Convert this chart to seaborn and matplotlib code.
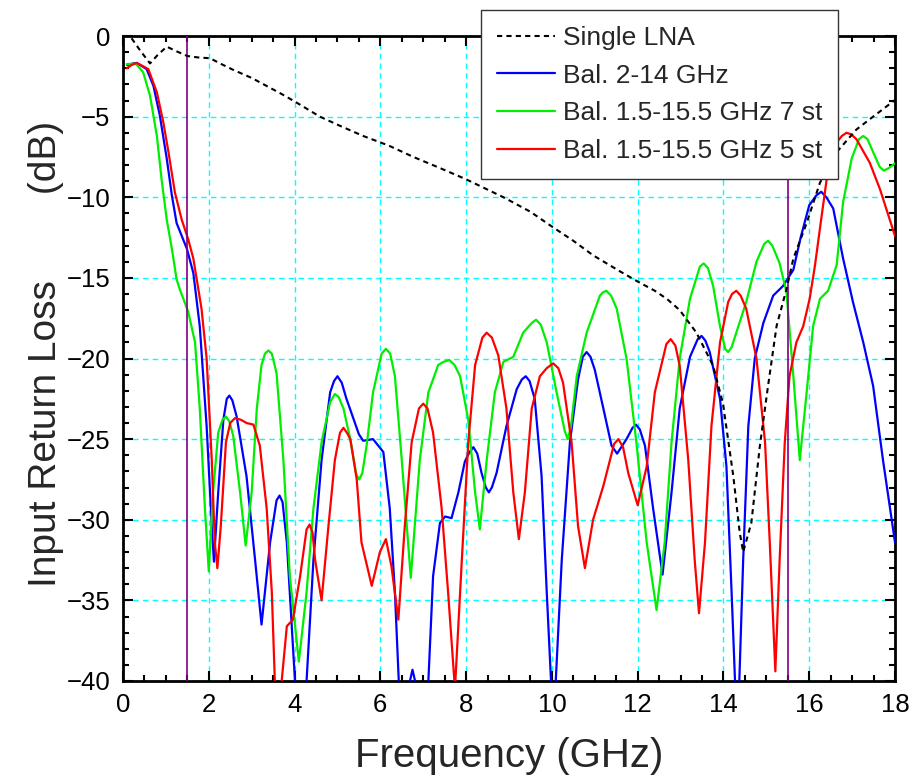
import matplotlib
matplotlib.use('Agg')
import matplotlib.pyplot as plt
from matplotlib.ticker import MultipleLocator
import seaborn as sns
import pandas as pd

# Single LNA
lna_f = [0.2, 0.4, 0.63, 0.8, 1.02, 1.25, 1.5, 1.75, 2.03, 2.3, 2.57, 3.0, 3.35, 3.7, 4.01, 4.59,
         5.0, 5.6, 6.2, 6.77, 7.4, 8.01, 8.87, 9.5, 9.99, 10.5, 10.96, 11.59, 12.01, 12.4,
         12.68, 12.98, 13.37, 13.76, 13.99, 14.23, 14.38, 14.46, 14.65, 14.85, 15.04, 15.24,
         15.47, 15.63, 15.94, 16.25, 16.64, 17.1, 17.49, 18.0]
lna_db = [-0.14, -0.9, -1.7, -1.2, -0.66, -0.95, -1.24, -1.33, -1.38, -1.75, -2.1, -2.6, -3.1, -3.6,
          -4.07, -5.0, -5.5, -6.2, -6.8, -7.5, -8.2, -8.9, -10.0, -10.9, -11.8, -12.7, -13.6,
          -14.6, -15.24, -15.8, -16.3, -17.0, -18.4, -20.45, -22.8, -27.3, -30.8, -32.0, -30.2,
          -25.4, -21.7, -17.97, -15.7, -13.8, -11.6, -9.1, -7.2, -5.8, -5.0, -3.97]

# Bal. 2-14 GHz
bal_f = [0.1, 0.24, 0.32, 0.55, 0.71, 0.86, 1.02, 1.14, 1.25, 1.49, 1.64, 1.79, 1.95, 2.07, 2.12,
         2.22, 2.34, 2.42, 2.48, 2.55, 2.65, 2.88, 3.08, 3.23, 3.43, 3.58, 3.65, 3.72, 3.82,
         4.01, 4.14, 4.28, 4.44, 4.63, 4.83, 4.92, 5.0, 5.1, 5.21, 5.29, 5.5, 5.6, 5.83, 6.07,
         6.22, 6.34, 6.43, 6.55, 6.69, 6.75, 6.81, 6.95, 7.12, 7.23, 7.39, 7.51, 7.66, 7.82,
         7.97, 8.08, 8.17, 8.26, 8.36, 8.46, 8.53, 8.6, 8.71, 8.94, 9.18, 9.3, 9.39, 9.48, 9.6,
         9.76, 9.88, 9.98, 10.03, 10.09, 10.23, 10.42, 10.61, 10.72, 10.81, 10.9, 11.0, 11.2,
         11.39, 11.52, 11.74, 11.88, 11.96, 12.05, 12.17, 12.36, 12.58, 12.79, 12.98, 13.22,
         13.4, 13.49, 13.58, 13.68, 13.92, 14.07, 14.19, 14.27, 14.32, 14.37, 14.46, 14.58,
         14.73, 14.93, 15.16, 15.39, 15.63, 15.8, 16.0, 16.16, 16.28, 16.4, 16.56, 16.79,
         17.02, 17.26, 17.49, 17.72, 18.0]
bal_db = [-1.8, -1.7, -1.67, -2.05, -3.1, -4.95, -7.6, -9.9, -11.6, -13.2, -14.7, -18.0, -24.2,
          -30.4, -32.6, -28.3, -23.8, -22.5, -22.3, -22.6, -23.6, -27.3, -32.5, -36.5, -31.4,
          -28.8, -28.5, -28.9, -31.4, -40.0, -44.0, -40.0, -32.5, -26.3, -22.1, -21.4, -21.1,
          -21.5, -22.5, -23.1, -24.7, -25.1, -25.0, -25.8, -29.3, -34.5, -40.0, -44.0, -40.0,
          -39.3, -40.0, -44.0, -40.0, -33.5, -30.2, -29.8, -29.9, -28.3, -26.4, -25.8, -25.5,
          -25.9, -27.1, -28.0, -28.3, -28.0, -27.1, -24.2, -21.9, -21.3, -21.1, -21.4, -22.5,
          -27.3, -34.5, -40.0, -43.0, -40.0, -32.5, -25.2, -21.3, -19.9, -19.6, -19.9, -20.7,
          -23.1, -25.4, -25.9, -25.0, -24.3, -24.1, -24.4, -25.4, -29.3, -33.4, -28.3, -23.1,
          -19.9, -18.8, -18.6, -18.9, -19.6, -22.5, -26.7, -34.5, -40.0, -44.0, -40.0, -32.5,
          -24.2, -20.0, -17.8, -16.1, -15.5, -14.5, -12.5, -10.5, -9.9, -9.66, -10.0, -10.7,
          -13.8, -16.5, -19.0, -21.7, -26.3, -31.4]

# Bal. 1.5-15.5 GHz 7 st
st7_f = [0.09, 0.3, 0.47, 0.63, 0.79, 0.9, 1.02, 1.14, 1.25, 1.33, 1.52, 1.68, 1.79, 1.91, 2.0,
         2.1, 2.22, 2.32, 2.4, 2.48, 2.57, 2.73, 2.86, 3.0, 3.12, 3.23, 3.31, 3.39, 3.47, 3.58,
         3.74, 3.89, 4.1, 4.28, 4.44, 4.63, 4.83, 4.94, 5.03, 5.14, 5.3, 5.44, 5.51, 5.58, 5.68,
         5.83, 6.03, 6.13, 6.23, 6.34, 6.5, 6.71, 6.92, 7.12, 7.35, 7.48, 7.61, 7.73, 7.86,
         8.05, 8.21, 8.32, 8.48, 8.67, 8.87, 9.1, 9.33, 9.53, 9.63, 9.74, 9.88, 10.11, 10.3,
         10.37, 10.44, 10.58, 10.81, 11.12, 11.19, 11.27, 11.38, 11.51, 11.74, 11.97, 12.21,
         12.44, 12.63, 12.79, 12.98, 13.22, 13.45, 13.54, 13.64, 13.76, 13.92, 14.04, 14.11,
         14.19, 14.3, 14.53, 14.77, 14.95, 15.04, 15.14, 15.31, 15.47, 15.63, 15.78, 15.94,
         16.09, 16.25, 16.44, 16.64, 16.79, 16.99, 17.16, 17.26, 17.36, 17.49, 17.64, 17.74,
         17.85, 18.0]
st7_db = [-1.74, -1.72, -2.25, -3.7, -6.2, -8.9, -11.4, -13.2, -15.1, -15.75, -17.1, -19.0,
          -23.1, -29.3, -33.2, -28.3, -24.6, -23.8, -23.6, -23.9, -24.8, -28.3, -31.6, -28.3,
          -23.1, -20.4, -19.7, -19.5, -19.7, -20.9, -26.3, -33.5, -38.8, -34.5, -29.3, -25.2,
          -22.7, -22.2, -22.4, -23.1, -25.0, -27.2, -27.5, -27.1, -25.4, -22.1, -19.7, -19.4,
          -19.7, -21.1, -26.3, -33.6, -26.3, -22.1, -20.4, -20.2, -20.1, -20.4, -21.1, -23.8,
          -28.3, -30.6, -26.3, -22.1, -20.2, -19.9, -18.4, -17.8, -17.6, -17.9, -19.0, -22.1,
          -24.5, -25.0, -24.3, -21.1, -18.4, -16.1, -15.9, -15.8, -16.1, -16.9, -20.0, -25.2,
          -31.4, -35.6, -31.4, -25.2, -20.0, -16.3, -14.3, -14.1, -14.4, -15.5, -18.0, -19.4,
          -19.6, -19.3, -18.4, -16.5, -14.0, -12.9, -12.7, -13.0, -14.1, -15.9, -21.1, -26.3,
          -22.1, -18.0, -16.3, -15.8, -14.2, -10.3, -7.6, -6.4, -6.2, -6.4, -7.2, -8.1, -8.35,
          -8.2, -7.9]

# Bal. 1.5-15.5 GHz 5 st
st5_f = [0.09, 0.2, 0.32, 0.59, 0.79, 0.94, 1.06, 1.21, 1.37, 1.52, 1.64, 1.83, 1.95, 2.07, 2.14,
         2.2, 2.28, 2.4, 2.5, 2.61, 2.75, 2.88, 3.04, 3.19, 3.35, 3.47, 3.54, 3.62, 3.7, 3.82,
         3.96, 4.13, 4.28, 4.35, 4.42, 4.48, 4.63, 4.79, 4.94, 5.06, 5.14, 5.22, 5.3, 5.45, 5.56,
         5.8, 5.99, 6.13, 6.26, 6.42, 6.57, 6.73, 6.9, 7.0, 7.1, 7.23, 7.43, 7.58, 7.74, 7.9,
         8.05, 8.21, 8.38, 8.48, 8.6, 8.75, 8.94, 9.1, 9.23, 9.37, 9.53, 9.72, 9.88, 10.03,
         10.15, 10.26, 10.46, 10.61, 10.77, 10.96, 11.2, 11.45, 11.55, 11.66, 11.78, 12.0,
         12.21, 12.4, 12.67, 12.77, 12.88, 12.98, 13.18, 13.33, 13.43, 13.57, 13.72, 13.92,
         14.11, 14.2, 14.3, 14.4, 14.53, 14.77, 14.97, 15.08, 15.21, 15.31, 15.43, 15.54, 15.7,
         15.86, 16.01, 16.13, 16.28, 16.44, 16.64, 16.76, 16.87, 16.98, 17.1, 17.41, 17.65, 18.0]
st5_db = [-2.0, -1.8, -1.67, -2.05, -3.5, -5.35, -7.2, -9.7, -11.4, -12.6, -13.8, -16.9, -20.0,
          -26.3, -31.4, -33.0, -30.4, -25.2, -24.0, -23.7, -23.8, -24.0, -24.1, -25.4, -29.3,
          -34.5, -40.0, -43.0, -40.0, -36.6, -36.2, -33.5, -30.6, -30.3, -30.8, -32.5, -35.0,
          -30.4, -26.3, -24.6, -24.3, -24.6, -25.0, -27.5, -31.4, -34.1, -32.0, -31.2, -32.9,
          -36.2, -30.4, -25.2, -23.1, -22.8, -23.1, -24.6, -29.3, -34.5, -40.5, -32.5, -25.2,
          -20.4, -18.7, -18.4, -18.7, -19.8, -23.1, -28.3, -31.2, -28.3, -23.1, -21.1, -20.6,
          -20.3, -20.6, -21.5, -25.2, -30.4, -33.0, -30.0, -27.9, -25.3, -25.0, -25.5, -27.1,
          -29.1, -26.7, -22.1, -19.1, -18.8, -19.2, -20.45, -26.3, -32.5, -35.8, -31.4, -24.2,
          -19.0, -16.5, -16.0, -15.8, -16.1, -16.9, -20.0, -25.2, -31.4, -39.4, -32.5, -25.2,
          -21.1, -19.0, -18.0, -16.3, -14.3, -11.35, -8.25, -6.6, -6.2, -6.0, -6.1, -6.4, -7.85,
          -9.5, -12.4]

labels = ['Single LNA', 'Bal. 2-14 GHz', 'Bal. 1.5-15.5 GHz 7 st', 'Bal. 1.5-15.5 GHz 5 st']
colors = ['black', '#0000ff', '#00ee00', '#ff0000']
band_edges = [1.5, 15.5]

sns.set_style('ticks')
plt.rcParams['font.family'] = ['Liberation Sans', 'DejaVu Sans']

fig = plt.figure(figsize=(9.22, 7.84), dpi=100)
ax = fig.add_axes([123 / 922, 1 - 681 / 784, (895 - 123) / 922, (681 - 36) / 784])

series = [(lna_f, lna_db), (bal_f, bal_db), (st7_f, st7_db), (st5_f, st5_db)]
for (f, db), lab, col in zip(series, labels, colors):
    df = pd.DataFrame({'f': f, 'db': db})
    if lab == 'Single LNA':
        sns.lineplot(data=df, x='f', y='db', ax=ax, color=col, lw=1.5, label=lab,
                     linestyle=(0, (2.5, 2.0)), zorder=4)
    else:
        sns.lineplot(data=df, x='f', y='db', ax=ax, color=col, lw=1.6, label=lab, zorder=3)

for xv in band_edges:
    ax.axvline(xv, color='#800080', lw=1.2, zorder=3)

ax.set_xlim(0, 18)
ax.set_ylim(-40, 0)
ax.xaxis.set_major_locator(MultipleLocator(2))
ax.xaxis.set_minor_locator(MultipleLocator(0.5))
ax.yaxis.set_major_locator(MultipleLocator(5))
ax.yaxis.set_minor_locator(MultipleLocator(1))
ax.grid(True, which='major', color='#00ffff', linestyle=(0, (4, 3)), lw=1.0, zorder=1)
ax.set_axisbelow(True)

ax.tick_params(which='both', direction='in', top=True, right=True, width=1.5,
               labelsize=18.5, colors='black')
ax.tick_params(which='major', length=7, pad=9)
ax.tick_params(which='minor', length=4)
for sp in ax.spines.values():
    sp.set_linewidth(2)
    sp.set_color('black')

ax.set_xlabel('Frequency (GHz)', fontsize=29, labelpad=14)
ax.set_ylabel('Input Return Loss        (dB)', fontsize=28)
ax.yaxis.set_label_coords(-0.077, 0.507)

leg = ax.legend(loc='upper left', bbox_to_anchor=(481 / 922, 1 - 10 / 784),
                bbox_transform=fig.transFigure, borderaxespad=0, fontsize=19,
                handlelength=2.2, handletextpad=0.3, labelspacing=0.52, borderpad=0.6,
                fancybox=False, framealpha=1, edgecolor='#333333')
leg.get_frame().set_linewidth(1.0)
leg.set_zorder(10)

fig.savefig('out.png', dpi=100)
